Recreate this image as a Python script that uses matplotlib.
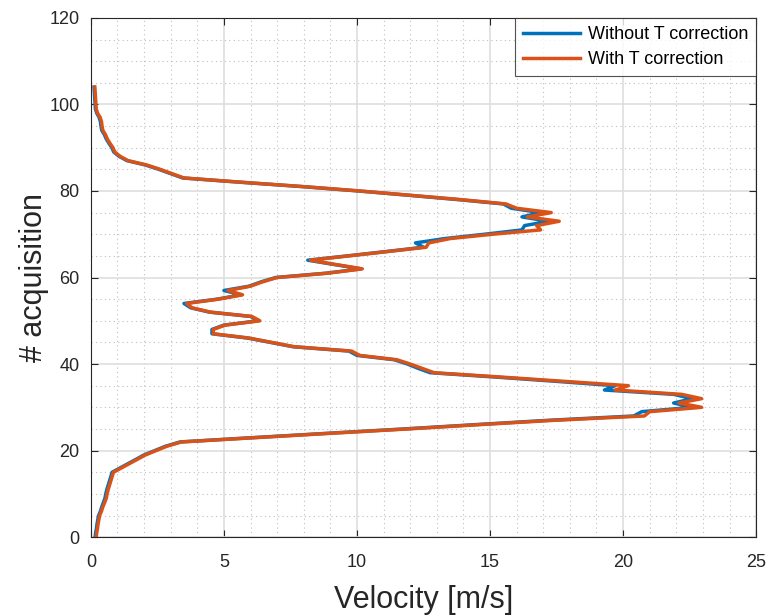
import numpy as np
import matplotlib.pyplot as plt

# acquisition index 0..104
acq = np.arange(105)

# velocity profile with temperature correction [m/s]
v_corr = [
    0.20, 0.22, 0.25, 0.27, 0.30, 0.33, 0.40, 0.45, 0.52, 0.58,
    0.61, 0.65, 0.70, 0.75, 0.80, 0.85, 1.15, 1.45, 1.75, 2.05,
    2.45, 2.85, 3.40, 6.20, 9.00, 11.90, 14.60, 17.40, 20.80, 21.00,
    22.95, 22.10, 22.95, 22.20, 19.70, 20.20, 17.80, 15.40, 12.90, 12.45,
    12.00, 11.50, 10.10, 9.80, 7.65, 6.80, 5.95, 4.60, 4.60, 5.05,
    6.35, 6.05, 4.50, 3.80, 3.60, 4.80, 5.70, 5.15, 6.00, 6.45,
    7.00, 8.90, 10.20, 9.20, 8.25, 9.70, 11.15, 12.60, 12.70, 13.50,
    15.10, 16.90, 16.75, 17.60, 16.40, 17.30, 16.00, 15.60, 13.90, 12.00,
    10.10, 8.00, 5.70, 3.50, 3.05, 2.60, 2.10, 1.40, 1.10, 0.90,
    0.83, 0.72, 0.62, 0.55, 0.45, 0.42, 0.40, 0.35, 0.25, 0.20,
    0.19, 0.18, 0.17, 0.16, 0.15,
]

# velocity profile without temperature correction [m/s]
v_raw = [
    0.16, 0.18, 0.21, 0.23, 0.26, 0.29, 0.36, 0.41, 0.47, 0.53,
    0.56, 0.60, 0.65, 0.70, 0.75, 0.80, 1.10, 1.40, 1.70, 2.00,
    2.40, 2.80, 3.35, 6.10, 8.90, 11.75, 14.45, 17.20, 20.40, 20.70,
    22.60, 21.90, 22.60, 21.90, 19.30, 19.70, 17.50, 15.20, 12.75, 12.30,
    11.90, 11.40, 10.00, 9.70, 7.60, 6.75, 5.90, 4.55, 4.55, 5.00,
    6.30, 6.00, 4.45, 3.75, 3.50, 4.75, 5.65, 5.00, 5.95, 6.40,
    6.95, 8.85, 10.15, 9.15, 8.15, 9.65, 11.10, 12.50, 12.20, 13.30,
    14.80, 16.20, 16.30, 17.20, 16.20, 16.90, 15.80, 15.50, 13.80, 11.95,
    10.05, 7.95, 5.65, 3.45, 3.00, 2.55, 2.05, 1.36, 1.06, 0.86,
    0.79, 0.68, 0.58, 0.51, 0.41, 0.38, 0.36, 0.31, 0.22, 0.17,
    0.16, 0.15, 0.14, 0.13, 0.12,
]

plt.rcParams['font.family'] = ['Liberation Sans', 'DejaVu Sans']

fig = plt.figure(figsize=(7.7, 6.16), dpi=100)
ax = fig.add_axes([0.118, 0.128, 0.864, 0.843])

blue = (0/255, 114/255, 189/255)
orange = (217/255, 83/255, 25/255)
ax.plot(v_raw, acq, color=blue, lw=2.5, label='Without T correction')
ax.plot(v_corr, acq, color=orange, lw=2.5, label='With T correction')

ax.set_xlim(0, 25)
ax.set_ylim(0, 120)
ax.set_xticks(np.arange(0, 26, 5))
ax.set_yticks(np.arange(0, 121, 20))
ax.set_xticks(np.arange(0, 26, 1), minor=True)
ax.set_yticks(np.arange(0, 121, 5), minor=True)

ax.grid(which='major', color=(0.87, 0.87, 0.87), lw=1.2, ls='-')
ax.grid(which='minor', color=(0.75, 0.75, 0.75), lw=0.8, ls=(0, (1, 3)))
ax.set_axisbelow(True)

edge = (0.15, 0.15, 0.15)
for s in ax.spines.values():
    s.set_color(edge)
    s.set_linewidth(0.8)
ax.tick_params(which='major', direction='in', length=5, width=0.8, color=edge,
               top=True, right=True, labelsize=13, labelcolor=edge)
ax.tick_params(axis='x', which='major', pad=12)
ax.tick_params(axis='y', which='major', pad=8)
ax.tick_params(which='minor', length=0, top=True, right=True)

ax.set_xlabel('Velocity [m/s]', fontsize=22, color=edge, labelpad=10)
ax.set_ylabel('# acquisition', fontsize=22, color=edge, labelpad=0)

leg = ax.legend(loc='upper right', fontsize=13, frameon=True, fancybox=False,
                borderaxespad=0.0, handlelength=3.2, labelspacing=0.45,
                handletextpad=0.4, borderpad=0.45)
leg.get_frame().set_edgecolor(edge)
leg.get_frame().set_linewidth(0.8)

fig.savefig('out.png', dpi=100)
